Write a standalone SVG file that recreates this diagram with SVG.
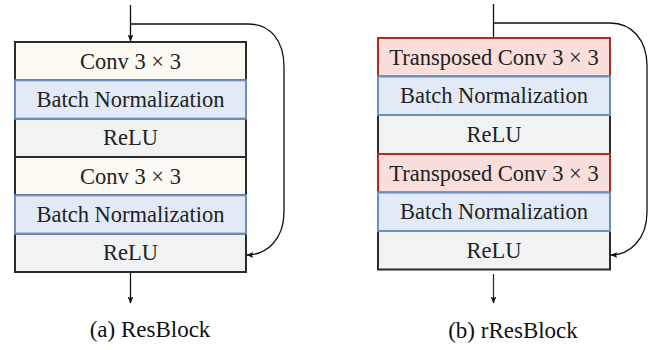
<svg xmlns="http://www.w3.org/2000/svg" width="654" height="350" viewBox="0 0 654 350">
  <defs>
    <marker id="arrow" viewBox="0 0 10 10" refX="9" refY="5" markerWidth="7" markerHeight="7" orient="auto" markerUnits="userSpaceOnUse">
      <path d="M0,1 L10,5 L0,9 L2,5 Z" fill="#111"/>
    </marker>
    <style>
      text { font-family: "Liberation Serif", "Times New Roman", serif; font-size: 22.5px; fill: #222; text-anchor: middle; }
      .caption { font-size: 23px; fill: #111; }
      .conv { fill: #fcf9f2; stroke: #2b2b2b; stroke-width: 2; }
      .tconv { fill: #f9dedb; stroke: #b5291f; stroke-width: 2; }
      .bn { fill: #e3eaf7; stroke: #6c8ebf; stroke-width: 2; }
      .relu { fill: #f1f2f4; stroke: #2b2b2b; stroke-width: 2; }
      .edge { fill: none; stroke: #111; stroke-width: 1.3; }
    </style>
  </defs>

  <!-- (a) ResBlock -->
  <g id="resblock">
    <g id="a-conv1"><rect class="conv" x="15" y="42" width="231" height="38.3"/><text x="130.5" y="68.7">Conv 3 × 3</text></g>
    <g id="a-relu1"><rect class="relu" x="15" y="118.6" width="231" height="38.4"/><text x="130.5" y="145.3">ReLU</text></g>
    <g id="a-conv2"><rect class="conv" x="15" y="157" width="231" height="38.3"/><text x="130.5" y="183.7">Conv 3 × 3</text></g>
    <g id="a-relu2"><rect class="relu" x="15" y="233.6" width="231" height="38.4"/><text x="130.5" y="260.3">ReLU</text></g>
    <g id="a-bn1"><rect class="bn" x="15" y="80.3" width="231" height="38.3"/><text x="130.5" y="107">Batch Normalization</text></g>
    <g id="a-bn2"><rect class="bn" x="15" y="195.3" width="231" height="38.3"/><text x="130.5" y="222">Batch Normalization</text></g>
  </g>

  <!-- (b) rResBlock -->
  <g id="rresblock">
    <g id="b-tconv1"><rect class="tconv" x="378" y="38" width="232" height="38.5"/><text x="494" y="64.5">Transposed Conv 3 × 3</text></g>
    <g id="b-relu1"><rect class="relu" x="378" y="115" width="232" height="39"/><text x="494" y="141.5">ReLU</text></g>
    <g id="b-tconv2"><rect class="tconv" x="378" y="154" width="232" height="38.5"/><text x="494" y="180.5">Transposed Conv 3 × 3</text></g>
    <g id="b-relu2"><rect class="relu" x="378" y="231" width="232" height="38.5"/><text x="494" y="257.5">ReLU</text></g>
    <g id="b-bn1"><rect class="bn" x="378" y="76.5" width="232" height="38.5"/><text x="494" y="103">Batch Normalization</text></g>
    <g id="b-bn2"><rect class="bn" x="378" y="192.5" width="232" height="38.5"/><text x="494" y="219">Batch Normalization</text></g>
  </g>

  <!-- connectors -->
  <g id="connectors">
    <path class="edge" d="M130.5,5 V41" marker-end="url(#arrow)"/>
    <path class="edge" d="M130.5,24 H248 C270,24 284,40 284,67 V212 C284,240 266,255 247,255" marker-end="url(#arrow)"/>
    <path class="edge" d="M130.5,273 V303" marker-end="url(#arrow)"/>

    <path class="edge" d="M493.5,4 V37"/>
    <path class="edge" d="M493.5,23 H610 C632,23 647,40 647,66 V212 C647,240 629,255 611,255" marker-end="url(#arrow)"/>
    <path class="edge" d="M493.5,274 V303" style="stroke:#333" marker-end="url(#arrow)"/>
  </g>

  <text class="caption" x="150" y="337">(a) ResBlock</text>
  <text class="caption" x="513" y="338">(b) rResBlock</text>
</svg>
